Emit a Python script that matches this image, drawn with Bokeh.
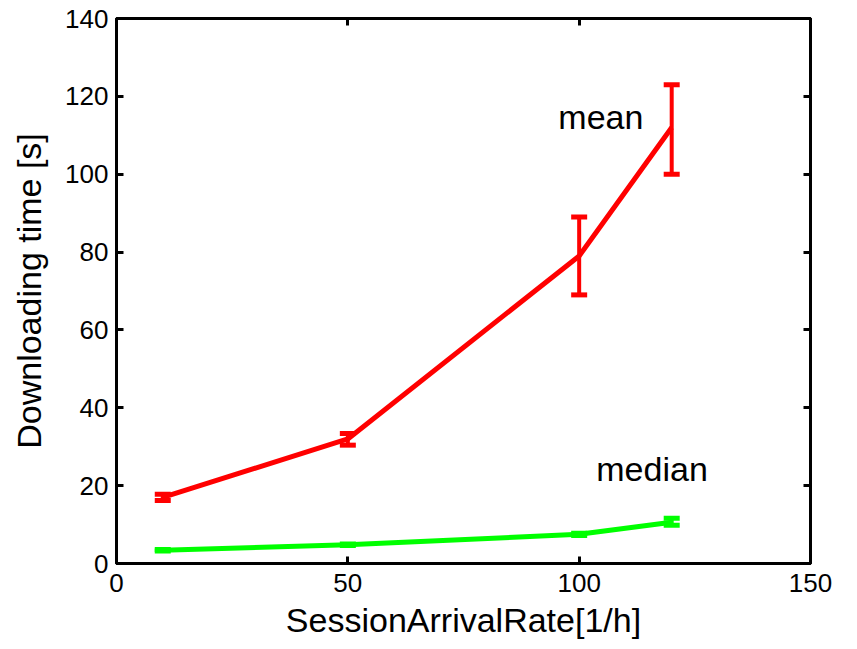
from bokeh.plotting import figure
from bokeh.models import ColumnDataSource, Whisker, TeeHead, LinearAxis, Range1d, Label, FixedTicker
from bokeh.embed import file_html
from bokeh.resources import INLINE

rate = [10, 50, 100, 120]
mean_vals = [17.0, 32.0, 79.0, 112.0]
mean_lower = [16.2, 30.4, 69.0, 100.0]
mean_upper = [17.8, 33.4, 89.0, 123.0]
median_vals = [3.4, 4.8, 7.5, 10.6]
median_lower = [3.2, 4.6, 7.2, 9.8]
median_upper = [3.6, 5.0, 7.8, 11.6]
x_ticks = [0, 50, 100, 150]
y_ticks = [0, 20, 40, 60, 80, 100, 120, 140]

FONT = "Liberation Sans"
RED = "#ff0000"
GREEN = "#00ff00"

p = figure(width=857, height=649, output_backend="svg", toolbar_location=None,
           x_range=Range1d(0, 150), y_range=Range1d(0, 140),
           min_border_left=116, min_border_right=47, min_border_top=18, min_border_bottom=86)
p.grid.visible = False
p.outline_line_color = "black"
p.outline_line_width = 3
p.background_fill_color = "white"
p.border_fill_color = "white"

for ax in (p.xaxis[0], p.yaxis[0]):
    ax.axis_line_width = 3
    ax.major_tick_line_width = 3
    ax.major_tick_in = 7
    ax.major_tick_out = 0
    ax.minor_tick_line_color = None
    ax.major_label_text_font = FONT
    ax.major_label_text_font_size = "26px"
    ax.major_label_text_color = "black"
    ax.axis_label_text_font = FONT
    ax.axis_label_text_font_size = "34px"
    ax.axis_label_text_font_style = "normal"
    ax.axis_label_text_color = "black"

p.xaxis.ticker = FixedTicker(ticks=x_ticks)
p.yaxis.ticker = FixedTicker(ticks=y_ticks)
p.xaxis.axis_label = "SessionArrivalRate[1/h]"
p.yaxis.axis_label = "Downloading time [s]"
p.xaxis.major_label_standoff = 10
p.yaxis.major_label_standoff = 8
p.xaxis.axis_label_standoff = 6
p.yaxis.axis_label_standoff = 14

top = LinearAxis(ticker=FixedTicker(ticks=x_ticks), major_label_text_color=None,
                 major_label_text_font_size="10px",
                 axis_line_width=3, major_tick_line_width=3, major_tick_in=7, major_tick_out=0,
                 minor_tick_line_color=None, major_label_standoff=0)
right = LinearAxis(ticker=FixedTicker(ticks=y_ticks), major_label_text_color=None,
                   major_label_text_font_size="10px",
                   axis_line_width=3, major_tick_line_width=3, major_tick_in=7, major_tick_out=0,
                   minor_tick_line_color=None, major_label_standoff=0)
p.add_layout(top, "above")
p.add_layout(right, "right")

mean_src = ColumnDataSource(dict(x=rate, y=mean_vals, lo=mean_lower, hi=mean_upper))
med_src = ColumnDataSource(dict(x=rate, y=median_vals, lo=median_lower, hi=median_upper))

p.line("x", "y", source=mean_src, line_color=RED, line_width=5)
p.line("x", "y", source=med_src, line_color=GREEN, line_width=5)

for src, col in ((mean_src, RED), (med_src, GREEN)):
    w = Whisker(source=src, base="x", lower="lo", upper="hi", dimension="height",
                line_color=col, line_width=4,
                upper_head=TeeHead(size=16, line_color=col, line_width=5),
                lower_head=TeeHead(size=16, line_color=col, line_width=5))
    p.add_layout(w)

p.add_layout(Label(x=95.5, y=114.6, text="mean", text_font=FONT, text_font_size="34px",
                   text_baseline="middle", text_align="left", text_color="black"))
p.add_layout(Label(x=103.7, y=24.4, text="median", text_font=FONT, text_font_size="34px",
                   text_baseline="middle", text_align="left", text_color="black"))

open("out.html", "w").write(file_html(p, INLINE))
